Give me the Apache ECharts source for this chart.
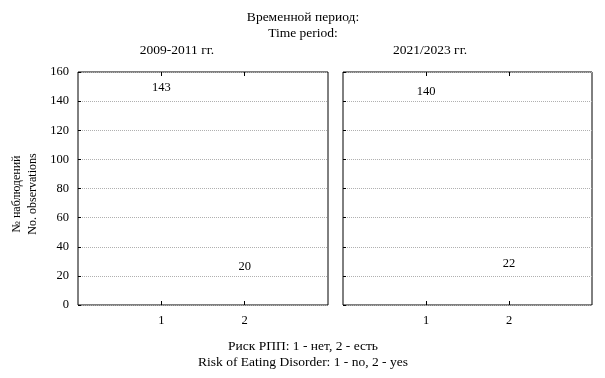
<!DOCTYPE html>
<html>
<head>
<meta charset="utf-8">
<script src="https://cdn.jsdelivr.net/npm/echarts@6/dist/echarts.min.js"></script>
<style>
    html, body { margin: 0; padding: 0; background: #fff; }
    #chart { width: 605px; height: 378px; }
</style>
</head>
<body>
<div id="chart"></div>
<script>
    // данные
    var categories = [1, 2];
    var periods = ['2009-2011 гг.', '2021/2023 гг.'];
    var counts2009 = [143, 20];
    var counts2021 = [140, 22];

    var font = 'Liberation Serif';
    var myChart = echarts.init(document.getElementById('chart'));

    function pairs(vals) {
        return categories.map(function (c, i) { return [c, vals[i]]; });
    }

    var grids = [
        { left: 78, top: 72, width: 250, height: 233 },
        { left: 343, top: 72, width: 249, height: 233 }
    ];

    var xAxes = [], yAxes = [];
    [0, 1].forEach(function (g) {
        xAxes.push({
            type: 'value', gridIndex: g, min: 0, max: 3, interval: 1,
            position: 'bottom',
            axisLine: { show: false },
            axisTick: { inside: true, length: 4, lineStyle: { color: '#000' },
                        customValues: categories },
            axisLabel: { color: '#000', fontFamily: font, fontSize: 12.5, margin: 9,
                         customValues: categories },
            splitLine: { show: false }
        });
        xAxes.push({
            type: 'value', gridIndex: g, min: 0, max: 3, interval: 1,
            position: 'top',
            axisLine: { show: false },
            axisTick: { inside: true, length: 4, lineStyle: { color: '#000' },
                        customValues: categories },
            axisLabel: { show: false },
            splitLine: { show: false }
        });
        yAxes.push({
            type: 'value', gridIndex: g, min: 0, max: 160, interval: 20,
            axisLine: { show: false },
            axisTick: { show: true, inside: true, length: 3, lineStyle: { color: '#000' } },
            axisLabel: { show: g === 0, color: '#000', fontFamily: font, fontSize: 12.5, margin: 9 },
            splitLine: { show: true, lineStyle: { color: '#b0b0b0', type: [1, 1], width: 1 } }
        });
    });

    function barSeries(g, vals) {
        return {
            type: 'bar',
            xAxisIndex: g * 2, yAxisIndex: g,
            data: pairs(vals),
            barWidth: 60,
            itemStyle: { color: 'rgba(0,0,0,0)' },
            label: {
                show: true, position: 'top', distance: 3,
                color: '#000', fontFamily: font, fontSize: 12.5
            }
        };
    }

    function txt(x, y, s, size) {
        return { type: 'text', x: x, y: y,
                 style: { text: s, fill: '#000', font: (size || 13.5) + 'px "' + font + '"', align: 'center' } };
    }

    function vtxt(x, y, s) {
        return { type: 'text', x: x, y: y, rotation: Math.PI / 2,
                 style: { text: s, fill: '#000', font: '12px "' + font + '"',
                          align: 'center', verticalAlign: 'middle' } };
    }

    myChart.setOption({
        animation: false,
        grid: grids.map(function (g) {
            return Object.assign({ show: true, borderColor: '#000', borderWidth: 1,
                                   backgroundColor: 'transparent' }, g);
        }),
        xAxis: xAxes,
        yAxis: yAxes,
        series: [barSeries(0, counts2009), barSeries(1, counts2021)],
        graphic: [
            txt(303, 10, 'Временной период:'),
            txt(303, 26, 'Time period:'),
            txt(177, 43, periods[0]),
            txt(430, 43, periods[1]),
            txt(303, 339, 'Риск РПП: 1 - нет, 2 - есть'),
            txt(303, 355, 'Risk of Eating Disorder: 1 - no, 2 - yes'),
            vtxt(17, 194, '№ наблюдений'),
            vtxt(33, 194, 'No. observations')
        ]
    });
</script>
</body>
</html>
